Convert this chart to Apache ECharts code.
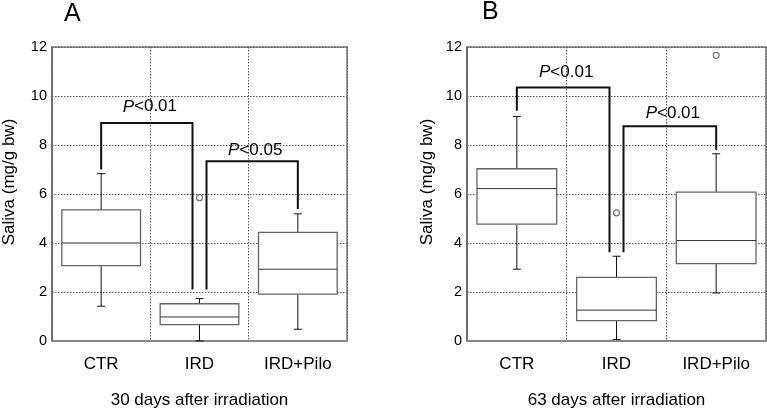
<!DOCTYPE html>
<html><head><meta charset="utf-8">
<script src="https://cdn.jsdelivr.net/npm/echarts@6/dist/echarts.min.js"></script>
<style>html,body{margin:0;padding:0;background:#fff}#c{width:767px;height:414px}</style>
</head><body><div id="c"></div>
<script>
const categories = ['CTR', 'IRD', 'IRD+Pilo'];
const yTicks = [0, 2, 4, 6, 8, 10, 12];
// [low whisker, Q1, median, Q3, high whisker]
const boxA = [[1.42, 3.08, 4.0, 5.35, 6.83], [0, 0.67, 0.98, 1.52, 1.73], [0.48, 1.91, 2.93, 4.43, 5.19]];
const boxB = [[2.93, 4.77, 6.22, 7.03, 9.16], [0.06, 0.83, 1.26, 2.6, 3.46], [1.96, 3.16, 4.1, 6.08, 7.64]];
const outliersA = [[1, 5.85]];
const outliersB = [[1, 5.23], [2, 11.66]];
// [fromCat, toCat, top, fromLegEnd, toLegEnd, labelY]
const bracketsA = [[0, 1, 8.9, 7.0, 2.1, 9.56], [1, 2, 7.34, 2.1, 5.39, 7.78]];
const bracketsB = [[0, 1, 10.35, 9.4, 3.62, 10.98], [1, 2, 8.77, 3.62, 7.81, 9.3]];
const bracketLabelsA = ['<0.01', '<0.05'];
const bracketLabelsB = ['<0.01', '<0.01'];
const xTitles = ['30 days after irradiation', '63 days after irradiation'];
const panelLetters = ['A', 'B'];
const yTitle = 'Saliva (mg/g bw)';

const FONT = "'Liberation Sans', Arial, Helvetica, sans-serif";
const TXT = '#000';
const chart = echarts.init(document.getElementById('c'));

function boxRender(params, api) {
  const x = api.value(0);
  const lo = api.coord([x, api.value(1)]);
  const q1 = api.coord([x, api.value(2)]);
  const md = api.coord([x, api.value(3)]);
  const q3 = api.coord([x, api.value(4)]);
  const hi = api.coord([x, api.value(5)]);
  const w = api.size([1, 0])[0] * 0.8;
  const cx = lo[0];
  const cap = 4;
  const ws = {stroke: '#111', lineWidth: 1};
  return {type: 'group', children: [
    {type: 'line', shape: {x1: cx, y1: q3[1], x2: cx, y2: hi[1]}, style: ws},
    {type: 'line', shape: {x1: cx - cap, y1: hi[1], x2: cx + cap, y2: hi[1]}, style: ws},
    {type: 'line', shape: {x1: cx, y1: q1[1], x2: cx, y2: lo[1]}, style: ws},
    {type: 'line', shape: {x1: cx - cap, y1: lo[1], x2: cx + cap, y2: lo[1]}, style: ws},
    {type: 'rect', shape: {x: cx - w / 2, y: q3[1], width: w, height: q1[1] - q3[1]}, style: {fill: '#fff', stroke: '#666', lineWidth: 1.3}},
    {type: 'line', shape: {x1: cx - w / 2, y1: md[1], x2: cx + w / 2, y2: md[1]}, style: {stroke: '#333', lineWidth: 1}}
  ]};
}

function makeBracketRender(brackets, labels) {
  return function (params, api) {
    const f = api.value(0), t = api.value(1);
    const fromOff = brackets.some(b => b[1] === f) ? 7 : 0;
    const toOff = brackets.some(b => b[0] === t) ? -7 : 0;
    const pTop1 = api.coord([f, api.value(2)]);
    const pTop2 = api.coord([t, api.value(2)]);
    const pF = api.coord([f, api.value(3)]);
    const pT = api.coord([t, api.value(4)]);
    const pL = api.coord([f, api.value(5)]);
    const x1 = pTop1[0] + fromOff, x2 = pTop2[0] + toOff;
    const st = {stroke: '#111', lineWidth: 2, fill: 'none'};
    return {type: 'group', children: [
      {type: 'polyline', shape: {points: [[x1, pF[1]], [x1, pTop1[1]], [x2, pTop1[1]], [x2, pT[1]]]}, style: st},
      {type: 'text', style: {
        x: (x1 + x2) / 2 + 3, y: pL[1], align: 'center', verticalAlign: 'middle',
        text: '{i|P}{n|' + labels[params.dataIndex] + '}',
        rich: {i: {fontStyle: 'italic', fontSize: 17, fontFamily: FONT, fill: TXT},
               n: {fontSize: 17, fontFamily: FONT, fill: TXT}}
      }}
    ]};
  };
}

const grids = [
  {left: 49, top: 47, width: 298, height: 297},
  {left: 467, top: 47, width: 299, height: 296}
];
const yNameGaps = [34, 31];
const gridLine = {show: true, lineStyle: {color: '#5a5a5a', type: [1.5, 1.5], width: 1}};

const xAxes = [], yAxes = [], series = [];
[0, 1].forEach(i => {
  xAxes.push({
    type: 'category', gridIndex: i, data: categories, boundaryGap: true,
    name: xTitles[i], nameLocation: 'middle', nameGap: 51,
    nameTextStyle: {fontSize: 17, fontFamily: FONT, color: TXT},
    axisLine: {show: true, lineStyle: {color: '#888', width: 2}},
    axisTick: {show: false},
    axisLabel: {fontSize: 17, fontFamily: FONT, color: TXT, margin: 15},
    splitLine: gridLine
  });
  yAxes.push({
    type: 'value', gridIndex: i, min: yTicks[0], max: yTicks[yTicks.length - 1], interval: 2,
    name: yTitle, nameLocation: 'middle', nameGap: yNameGaps[i], nameRotate: 90,
    nameTextStyle: {fontSize: 17, fontFamily: FONT, color: TXT, padding: [0, 0, 0, 24]},
    axisLine: {show: true, lineStyle: {color: '#666', width: 1.5}},
    axisTick: {show: false},
    axisLabel: {fontSize: 14.5, fontFamily: FONT, color: TXT, margin: 5},
    splitLine: gridLine
  });
  const boxes = i === 0 ? boxA : boxB;
  series.push({
    type: 'custom', xAxisIndex: i, yAxisIndex: i, renderItem: boxRender,
    encode: {x: 0, y: [1, 2, 3, 4, 5]},
    data: boxes.map((b, k) => [k].concat(b)), z: 3
  });
  series.push({
    type: 'scatter', xAxisIndex: i, yAxisIndex: i, symbol: 'circle', symbolSize: 6,
    itemStyle: {color: '#fff', borderColor: '#555', borderWidth: 1.2},
    data: i === 0 ? outliersA : outliersB, z: 4
  });
  const br = i === 0 ? bracketsA : bracketsB;
  series.push({
    type: 'custom', xAxisIndex: i, yAxisIndex: i,
    renderItem: makeBracketRender(br, i === 0 ? bracketLabelsA : bracketLabelsB),
    encode: {x: [0, 1], y: [2, 3, 4, 5]}, data: br, z: 5
  });
});

chart.setOption({
  animation: false,
  backgroundColor: '#fff',
  grid: grids.map(g => Object.assign({show: true, borderColor: '#777', borderWidth: 1.5}, g)),
  xAxis: xAxes,
  yAxis: yAxes,
  series: series,
  graphic: [
    {type: 'text', left: 64, top: 2, style: {text: panelLetters[0], fontSize: 25, fontFamily: FONT, fill: TXT}},
    {type: 'text', left: 482, top: 0, style: {text: panelLetters[1], fontSize: 25, fontFamily: FONT, fill: TXT}}
  ]
});
</script></body></html>
